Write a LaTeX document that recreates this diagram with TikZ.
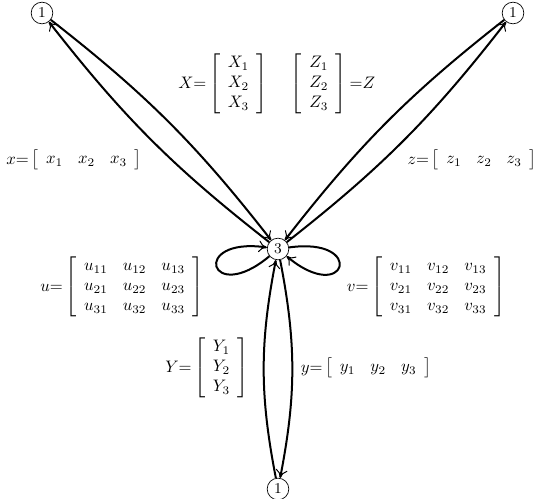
\documentclass[tikz,border=0pt]{standalone}
\usetikzlibrary{arrows.meta}
\setlength{\arraycolsep}{4.5pt}

\tikzset{
    vertice/.style={circle, draw, inner sep=1pt, minimum size=13pt, font=\small},
    arista/.style={very thick, -{To[line width=0.6pt,length=5pt,width=7pt]}},
}

\begin{document}
\begin{tikzpicture}[x=0.6pt,y=-0.6pt]
\useasboundingbox (0,0) rectangle (538,499);

    % Vertices
\node[vertice] (A) at (42,13) {1};
\node[vertice] (C) at (513,13) {1};
\node[vertice] (M) at (278,249) {3};
\node[vertice] (B) at (278,489) {1};

    % Aristas hacia arriba a la izquierda
\draw[arista] (M) to[bend left=7] (A);
\draw[arista] (A) to[bend left=7] (M);
\node at (74,160) {$x{=}\left[\begin{array}{ccc} x_1 & x_2 & x_3 \end{array}\right]$};
\node at (223,84) {$X{=}\left[\begin{array}{c} X_1\\ X_2\\ X_3 \end{array}\right]$};

    % Aristas hacia arriba a la derecha
\draw[arista] (M) to[bend right=7] (C);
\draw[arista] (C) to[bend right=7] (M);
\node at (472,160) {$z{=}\left[\begin{array}{ccc} z_1 & z_2 & z_3 \end{array}\right]$};
\node at (333,84) {$\left[\begin{array}{c} Z_1\\ Z_2\\ Z_3 \end{array}\right]{=}Z$};

    % Lazos
\draw[arista] (M) to[out=220,in=172,min distance=47pt] (M);
\draw[arista] (M) to[out=8,in=320,min distance=47pt] (M);
\node at (122,287) {$u{=}\left[\begin{array}{ccc} u_{11} & u_{12} & u_{13}\\ u_{21} & u_{22} & u_{23}\\ u_{31} & u_{32} & u_{33} \end{array}\right]$};
\node at (426,287) {$v{=}\left[\begin{array}{ccc} v_{11} & v_{12} & v_{13}\\ v_{21} & v_{22} & v_{23}\\ v_{31} & v_{32} & v_{33} \end{array}\right]$};

    % Aristas hacia abajo
\draw[arista] (M) to[bend left=11] (B);
\draw[arista] (B) to[bend left=11] (M);
\node at (207,368) {$Y{=}\left[\begin{array}{c} Y_1\\ Y_2\\ Y_3 \end{array}\right]$};
\node at (366,368) {$y{=}\left[\begin{array}{ccc} y_1 & y_2 & y_3 \end{array}\right]$};

\end{tikzpicture}
\end{document}
